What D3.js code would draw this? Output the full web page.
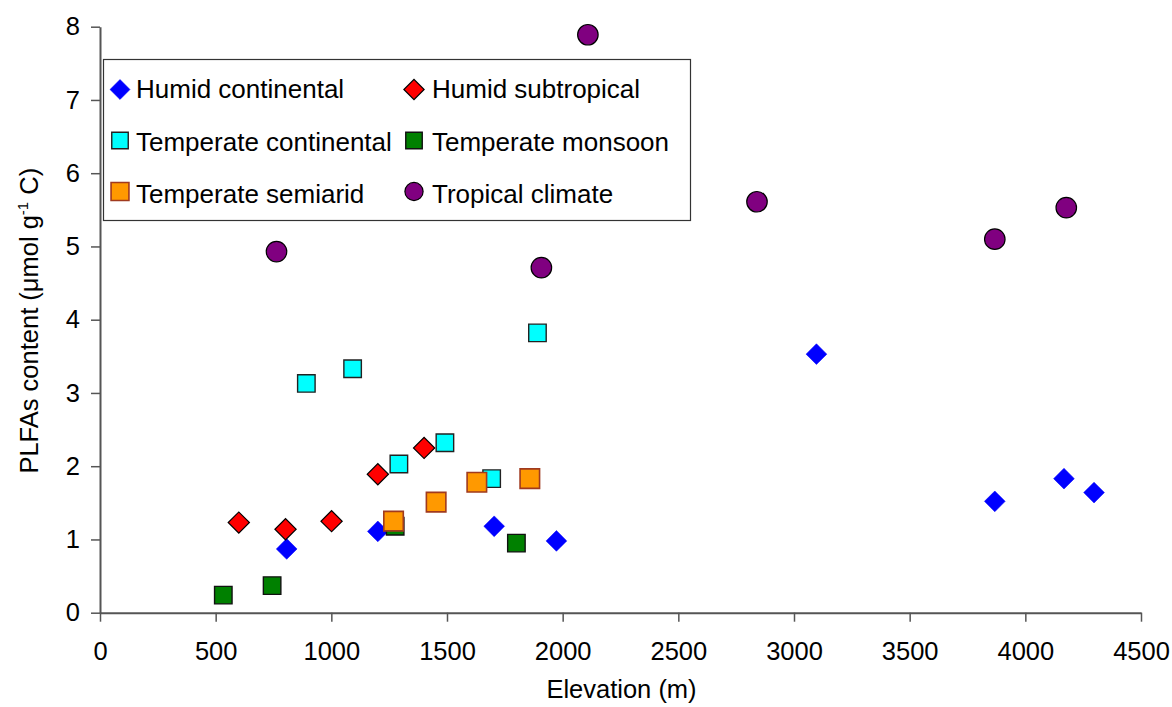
<!DOCTYPE html>
<html>
<head>
<meta charset="utf-8">
<script src="https://cdn.jsdelivr.net/npm/d3@7"></script>
<style>
  html, body { margin: 0; padding: 0; background: #fff; }
  svg { display: block; }
  text { font-family: "Liberation Sans", Arial, sans-serif; fill: #000; }
</style>
</head>
<body>
<svg id="chart" width="1172" height="707"></svg>
<script>
// ---- Data ----
const seriesNames = ["Humid continental", "Humid subtropical", "Temperate continental",
                     "Temperate monsoon", "Temperate semiarid", "Tropical climate"];

const humidContinentalX = [807, 1201, 1704, 1973, 3097, 3868, 4167, 4297];
const humidContinentalY = [0.87, 1.11, 1.18, 0.98, 3.53, 1.52, 1.83, 1.64];

const humidSubtropicalX = [600, 802, 1001, 1201, 1401];
const humidSubtropicalY = [1.23, 1.14, 1.25, 1.89, 2.25];

const temperateContinentalX = [892, 1092, 1292, 1491, 1693, 1891];
const temperateContinentalY = [3.13, 3.33, 2.03, 2.32, 1.83, 3.82];

const temperateMonsoonX = [533, 744, 1276, 1800];
const temperateMonsoonY = [0.24, 0.37, 1.18, 0.95];

const temperateSemiaridX = [1269, 1453, 1629, 1858];
const temperateSemiaridY = [1.25, 1.51, 1.78, 1.83];

const tropicalX = [763, 1908, 2109, 2840, 3868, 4177];
const tropicalY = [4.93, 4.71, 7.89, 5.61, 5.10, 5.53];

const xTicks = [0, 500, 1000, 1500, 2000, 2500, 3000, 3500, 4000, 4500];
const yTicks = [0, 1, 2, 3, 4, 5, 6, 7, 8];

// ---- Styles ----
const styles = [
  { shape: "diamond", fill: "#0000FF", stroke: "#0000FF", sw: 0.5, size: 215, lsize: 200 },
  { shape: "diamond", fill: "#FF0000", stroke: "#000000", sw: 1.2, size: 225, lsize: 205 },
  { shape: "square",  fill: "#00FFFF", stroke: "#222222", sw: 1.4, size: 306, lsize: 272 },
  { shape: "square",  fill: "#008000", stroke: "#111111", sw: 1.4, size: 306, lsize: 272 },
  { shape: "square",  fill: "#FF9900", stroke: "#A03A1E", sw: 1.6, size: 380, lsize: 320 },
  { shape: "circle",  fill: "#800080", stroke: "#000000", sw: 1.2, size: 330, lsize: 260 }
];

const seriesData = [
  [humidContinentalX, humidContinentalY],
  [humidSubtropicalX, humidSubtropicalY],
  [temperateContinentalX, temperateContinentalY],
  [temperateMonsoonX, temperateMonsoonY],
  [temperateSemiaridX, temperateSemiaridY],
  [tropicalX, tropicalY]
];

// ---- Chart ----
const svg = d3.select("#chart");
const axisColor = "#555";
const fontSize = 25.5;
const legendFontSize = 26;

const x = d3.scaleLinear().domain([0, 4500]).range([100, 1141]);
const y = d3.scaleLinear().domain([0, 8]).range([612.7, 26.7]);

function symbolPath(shape, size) {
  if (shape === "circle") return d3.symbol(d3.symbolCircle, size)();
  return d3.symbol(d3.symbolSquare, size)();
}
function rot(shape) { return shape === "diamond" ? " rotate(45)" : ""; }

// axes
const xAxis = d3.axisBottom(x).tickValues(xTicks).tickSize(9).tickSizeOuter(0).tickPadding(20)
  .tickFormat(d3.format("d"));
const gx = svg.append("g").attr("transform", `translate(0,${y(0)})`).call(xAxis);

const yAxis = d3.axisLeft(y).tickValues(yTicks).tickSize(9).tickSizeOuter(0).tickPadding(11)
  .tickFormat(d3.format("d"));
const gy = svg.append("g").attr("transform", `translate(${x(0)},0)`).call(yAxis);

[gx, gy].forEach(g => {
  g.select(".domain").attr("stroke", axisColor).attr("stroke-width", 2);
  g.selectAll(".tick line").attr("stroke", axisColor).attr("stroke-width", 1.5);
  g.selectAll(".tick text").attr("font-size", fontSize)
    .attr("font-family", '"Liberation Sans", Arial, sans-serif').attr("fill", "#000");
});

// axis titles
svg.append("text")
  .attr("x", (x(0) + x(4500)) / 2 + 1).attr("y", 698)
  .attr("text-anchor", "middle").attr("font-size", fontSize)
  .text("Elevation (m)");

const yt = svg.append("text")
  .attr("transform", `translate(38,${(y(0) + y(8)) / 2 + 1}) rotate(-90)`)
  .attr("text-anchor", "middle").attr("font-size", fontSize);
yt.append("tspan").text("PLFAs content (μmol g");
yt.append("tspan").attr("font-size", 15).attr("dy", -10).text("-1");
yt.append("tspan").attr("dy", 10).text(" C)");

// points (drawn in legend order)
seriesData.forEach((s, i) => {
  const st = styles[i];
  const pts = s[0].map((v, j) => [v, s[1][j]]);
  svg.append("g").selectAll("path").data(pts).join("path")
    .attr("d", symbolPath(st.shape, st.size))
    .attr("transform", d => `translate(${x(d[0])},${y(d[1])})` + rot(st.shape))
    .attr("fill", st.fill).attr("stroke", st.stroke).attr("stroke-width", st.sw);
});

// legend
const lg = svg.append("g");
lg.append("rect").attr("x", 103.5).attr("y", 59.5).attr("width", 587).attr("height", 161)
  .attr("fill", "#fff").attr("stroke", "#333").attr("stroke-width", 1.2);

const colMarkerX = [120, 414];
const colTextX = [136, 432];
const rowCenter = [89.5, 140.5, 191.5];
const rowBase = [97.5, 150.5, 203];

seriesNames.forEach((name, i) => {
  const col = i % 2, row = Math.floor(i / 2);
  const st = styles[i];
  lg.append("path")
    .attr("d", symbolPath(st.shape, st.lsize))
    .attr("transform", `translate(${colMarkerX[col]},${rowCenter[row]})` + rot(st.shape))
    .attr("fill", st.fill).attr("stroke", st.stroke).attr("stroke-width", st.sw);
  lg.append("text").attr("x", colTextX[col]).attr("y", rowBase[row])
    .attr("font-size", legendFontSize).text(name);
});
</script>
</body>
</html>
